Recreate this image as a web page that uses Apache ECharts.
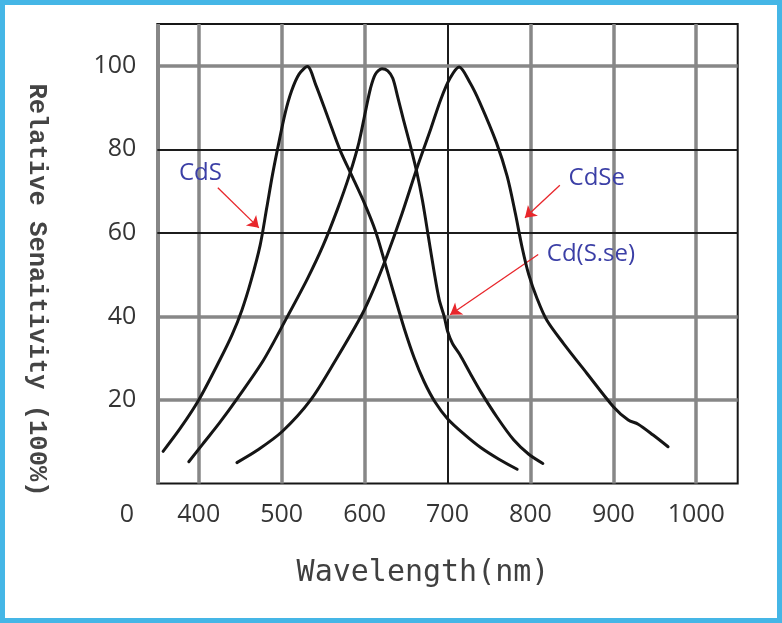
<!DOCTYPE html>
<html>
<head>
<meta charset="utf-8">
<script src="https://cdn.jsdelivr.net/npm/echarts@6/dist/echarts.min.js"></script>
<style>
html,body{margin:0;padding:0;background:#fff;}
#chart{width:782px;height:623px;}
</style>
</head>
<body>
<div id="chart"></div>
<script>
// ---- data ----
const xTickLabels = [400, 500, 600, 700, 800, 900, 1000];
const yTickLabels = [20, 40, 60, 80, 100];
const darkXLines = [700];
const darkYLines = [80, 60];

const cdsData = [[357,7.7],[378,13.3],[400,20],[426,29.8],[440,35.5],[452,41.5],[463,48.5],[474,57],[482,66],[489,74],[496,81],[504,88.5],[512,94],[521,98],[531,99.8],[541,95.5],[556,87.5],[570,80],[585,73.5],[600,67],[613,60.5],[625,52.5],[636,45],[648,37],[660,30],[672,24.3],[685,19.5],[700,15.5],[720,11.8],[740,8.6],[762,5.8],[784,3.4]];
const cdSSeData = [[388,5.2],[405,9.5],[425,14.5],[447,20.5],[478,29.5],[507,40],[531,49],[550,57],[567,65.5],[582,74],[593,81.5],[601,89],[607,94.5],[613,98],[621,99.3],[628,98.8],[634,97],[640,92.5],[647,87],[655,81],[663,74.5],[670,67.5],[677,59],[684,50.5],[690,44],[696,40],[700,36.5],[706,33.5],[715,30.8],[727,26.5],[740,22],[760,15.8],[780,10.4],[798,7],[815,4.8]];
const cdSeData = [[446,5],[471,8],[501,12.5],[535,20],[565,29.5],[597,40.5],[612,47],[627,54.5],[645,64.5],[664,76],[680,85],[692,92],[703,97],[714,99.7],[727,96],[739,91.2],[759,81.6],[772,73.5],[782,64.5],[790,56.5],[798,50],[808,44.3],[820,39],[840,33.5],[868,26.4],[900,18.4],[918,15.2],[930,14.2],[948,11.6],[966,8.8]];

const labelNames = ['CdS', 'CdSe', 'Cd(S.se)'];
const labelX = [402, 880, 873];
const labelY = [74.4, 73.2, 55];
const arrowFromX = [423, 835.5, 809.4];
const arrowFromY = [70.8, 71.4, 54.8];
const arrowToX = [472.5, 793.4, 703.2];
const arrowToY = [61.2, 63.6, 40.4];

const xMin = 350, xMax = 1050, yMin = 0, yMax = 110;

// ---- chart ----
const chart = echarts.init(document.getElementById('chart'), null, {renderer: 'canvas'});

const GRAY = '#878787', DARK = '#1c1c1c';
const gridLines = [];
gridLines.push({xAxis: xMin, lineStyle: {color: GRAY, width: 4, type: 'solid'}});
xTickLabels.forEach(v => {
  const dark = darkXLines.includes(v);
  gridLines.push({xAxis: v, lineStyle: {color: dark ? DARK : GRAY, width: dark ? 2 : 3.5, type: 'solid'}});
});
yTickLabels.forEach(v => {
  const dark = darkYLines.includes(v);
  gridLines.push({yAxis: v, lineStyle: {color: dark ? DARK : GRAY, width: dark ? 2 : 3.5, type: 'solid'}});
});

const arrows = labelNames.map((n, i) => [
  {coord: [arrowFromX[i], arrowFromY[i]]},
  {coord: [arrowToX[i], arrowToY[i]]}
]);
const labels = labelNames.map((n, i) => ({name: n, coord: [labelX[i], labelY[i]]}));

function curve(name, data) {
  return {
    name, type: 'line', data, smooth: 0.3, symbol: 'none', z: 5,
    lineStyle: {color: '#151515', width: 3, cap: 'round', join: 'round'},
    silent: true
  };
}

chart.setOption({
  animation: false,
  backgroundColor: '#ffffff',
  grid: {left: 157.3, right: 44.3, top: 24, bottom: 139.5, show: true,
         borderColor: '#161616', borderWidth: 2, backgroundColor: '#fff'},
  xAxis: {
    type: 'value', min: xMin, max: xMax, interval: 50,
    axisLine: {show: false}, axisTick: {show: false}, splitLine: {show: false},
    axisLabel: {
      margin: 19, fontSize: 25, fontFamily: 'Open Sans', color: '#353535',
      formatter: v => (v % 100 === 0 && v >= 400 && v <= 1000) ? String(v) : ''
    }
  },
  yAxis: {
    type: 'value', min: yMin, max: yMax, interval: 20,
    axisLine: {show: false}, axisTick: {show: false}, splitLine: {show: false},
    axisLabel: {
      margin: 21, fontSize: 25, fontFamily: 'Open Sans', color: '#353535',
      formatter: v => (v > 0 && v <= 100) ? String(v) : ''
    }
  },
  graphic: [
    {type: 'rect', silent: true, z: 100,
     shape: {x: 2.5, y: 2.5, width: 777, height: 618},
     style: {fill: 'none', stroke: '#45b6e6', lineWidth: 5}},
    {type: 'text', x: 127, y: 515, silent: true,
     style: {text: '0', fontSize: 25, fontFamily: 'Open Sans', fill: '#353535', align: 'center', verticalAlign: 'middle'}},
    {type: 'text', x: 36, y: 290, rotation: -Math.PI / 2, silent: true,
     style: {text: 'Relative Senaitivity (100%)', fontSize: 25.5, fontFamily: 'Liberation Mono', fontWeight: 'bold', fill: '#444444', align: 'center', verticalAlign: 'middle'}},
    {type: 'text', x: 423, y: 573, silent: true,
     style: {text: 'Wavelength(nm)', fontSize: 30, fontFamily: 'DejaVu Sans Mono', fill: '#404040', align: 'center', verticalAlign: 'middle'}}
  ],
  series: [
    {
      type: 'line', data: [], z: 1, silent: true, clip: false,
      markLine: {silent: true, symbol: ['none', 'none'], label: {show: false}, animation: false, data: gridLines}
    },
    curve('CdS', cdsData),
    curve('Cd(S.se)', cdSSeData),
    curve('CdSe', cdSeData),
    {
      type: 'line', data: [], z: 6, silent: true, clip: false,
      markLine: {silent: true, symbol: ['none', 'arrow'], symbolSize: 11, label: {show: false}, animation: false,
        lineStyle: {color: '#e8262b', width: 1.3, type: 'solid'}, data: arrows},
      markPoint: {silent: true, symbol: 'rect', symbolSize: 1, itemStyle: {color: 'rgba(0,0,0,0)'}, animation: false,
        label: {show: true, position: 'inside', formatter: '{b}', fontSize: 24, fontFamily: 'Open Sans', color: '#3b3fa6'},
        data: labels}
    }
  ]
});
</script>
</body>
</html>
